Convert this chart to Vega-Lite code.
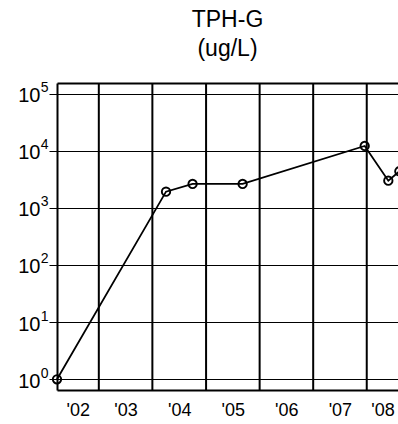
{
  "$schema": "https://vega.github.io/schema/vega-lite/v6.json",
  "autosize": "none",
  "padding": {"left": 57, "top": 83, "right": 0, "bottom": 34},
  "width": 341,
  "height": 307,
  "background": "white",
  "config": {"view": {"stroke": null}, "font": "Liberation Sans"},
  "title": {
    "text": ["TPH-G", "(ug/L)"],
    "fontSize": 23,
    "fontWeight": "normal",
    "font": "Liberation Sans",
    "color": "black",
    "lineHeight": 29,
    "offset": 14,
    "anchor": "middle"
  },
  "datasets": {
    "samples": [
      {"date": "2002-03-22", "tph_g": 1},
      {"date": "2004-04-03", "tph_g": 1920},
      {"date": "2004-10-01", "tph_g": 2620},
      {"date": "2005-09-07", "tph_g": 2620},
      {"date": "2007-12-18", "tph_g": 12100},
      {"date": "2008-05-27", "tph_g": 2990},
      {"date": "2008-08-10", "tph_g": 4350}
    ],
    "years": [
      {"date": "2003-01-01"},
      {"date": "2004-01-01"},
      {"date": "2005-01-01"},
      {"date": "2006-01-01"},
      {"date": "2007-01-01"},
      {"date": "2008-01-01"}
    ]
  },
  "encoding": {
    "x": {
      "field": "date",
      "type": "temporal",
      "scale": {"domain": ["2002-03-22", "2008-08-01"], "nice": false},
      "axis": {
        "title": null,
        "values": ["2002-08-11", "2003-07-02", "2004-07-02", "2005-07-02", "2006-07-02", "2007-07-02", "2008-04-17"],
        "labelExpr": "\"'\" + timeFormat(datum.value, '%y')",
        "grid": false,
        "ticks": false,
        "domain": true,
        "domainColor": "black",
        "domainWidth": 2,
        "labelFont": "Liberation Sans",
        "labelFontSize": 18,
        "labelColor": "black",
        "labelPadding": 11,
        "labelFlush": false,
        "labelOverlap": false
      }
    }
  },
  "resolve": {"axis": {"y": "independent"}},
  "layer": [
    {
      "data": {"name": "years"},
      "mark": {"type": "rule", "color": "black", "strokeWidth": 2},
      "encoding": {}
    },
    {
      "data": {"name": "samples"},
      "mark": {"type": "line", "color": "black", "strokeWidth": 1.8, "clip": false},
      "encoding": {
        "y": {
          "field": "tph_g",
          "type": "quantitative",
          "scale": {"type": "log", "domain": [0.65, 152800], "nice": false},
          "axis": {
            "orient": "left",
            "title": null,
            "values": [1, 10, 100, 1000, 10000, 100000, 152800],
            "labelExpr": "datum.value > 100001 ? '' : '10'",
            "labelFont": "Liberation Sans",
            "labelFontSize": 20,
            "labelColor": "black",
            "labelPadding": 9,
            "labelOffset": 2,
            "grid": true,
            "gridColor": "black",
            "gridWidth": {"condition": {"test": "datum.value > 100001", "value": 2}, "value": 1},
            "ticks": true,
            "tickSize": 8,
            "tickWidth": 1,
            "tickColor": {"condition": {"test": "datum.value > 100001", "value": "transparent"}, "value": "black"},
            "domain": true,
            "domainColor": "black",
            "domainWidth": 2,
            "labelOverlap": false,
            "labelFlush": false
          }
        }
      }
    },
    {
      "data": {"name": "samples"},
      "mark": {"type": "point", "filled": false, "size": 70, "strokeWidth": 1.9, "color": "black", "opacity": 1, "clip": false},
      "encoding": {
        "y": {
          "field": "tph_g",
          "type": "quantitative",
          "axis": {
            "orient": "left",
            "title": null,
            "values": [1, 10, 100, 1000, 10000, 100000],
            "labelExpr": "format(log(datum.value) / LN10, 'd')",
            "labelFont": "Liberation Sans",
            "labelFontSize": 14,
            "labelColor": "black",
            "labelPadding": 1,
            "labelOffset": -6,
            "grid": false,
            "ticks": true,
            "tickSize": 8,
            "tickColor": "transparent",
            "domain": false,
            "labelOverlap": false,
            "labelFlush": false
          }
        }
      }
    }
  ]
}
